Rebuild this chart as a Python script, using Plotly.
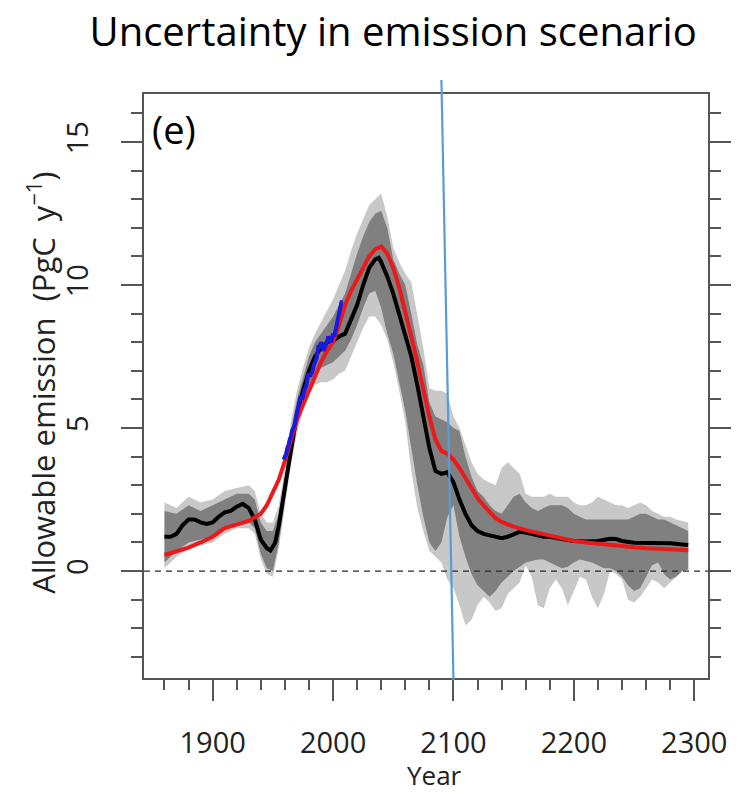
import plotly.graph_objects as go

# ---------------- data ----------------
black_years = [1860, 1865, 1870, 1875, 1880, 1885, 1890, 1895, 1900, 1905, 1910, 1915, 1920, 1925,
               1930, 1935, 1940, 1945, 1948, 1952, 1955, 1960, 1965, 1970, 1975, 1980, 1985, 1990,
               1995, 2000, 2005, 2010, 2015, 2020, 2025, 2030, 2035, 2038, 2040, 2045, 2050, 2055,
               2060, 2065, 2070, 2075, 2080, 2085, 2090, 2095, 2100, 2105, 2110, 2115, 2120, 2125,
               2130, 2135, 2140, 2145, 2150, 2155, 2160, 2165, 2170, 2175, 2180, 2185, 2190, 2195,
               2200, 2210, 2220, 2230, 2235, 2240, 2250, 2260, 2270, 2280, 2290, 2295]
black_vals = [1.2, 1.2, 1.3, 1.6, 1.8, 1.8, 1.7, 1.65, 1.7, 1.9, 2.05, 2.1, 2.25, 2.35,
              2.2, 1.8, 1.1, 0.8, 0.72, 1.0, 1.6, 2.9, 4.4, 5.5, 6.3, 7.0, 7.5, 7.8,
              8.0, 8.05, 8.2, 8.3, 8.8, 9.3, 10.0, 10.6, 10.9, 10.95, 10.8, 10.3, 9.7, 9.0,
              8.3, 7.5, 6.5, 5.3, 4.3, 3.5, 3.4, 3.45, 3.1, 2.5, 2.0, 1.6, 1.4, 1.3,
              1.25, 1.2, 1.15, 1.2, 1.3, 1.37, 1.35, 1.3, 1.25, 1.2, 1.2, 1.15, 1.1, 1.08,
              1.05, 1.03, 1.05, 1.13, 1.12, 1.05, 0.99, 0.98, 0.99, 0.97, 0.93, 0.91]

red_years = [1860, 1870, 1880, 1890, 1900, 1910, 1920, 1930, 1940, 1945, 1950, 1955, 1960, 1965,
             1970, 1975, 1980, 1985, 1990, 1995, 2000, 2005, 2010, 2015, 2020, 2025, 2030, 2035,
             2040, 2045, 2050, 2055, 2060, 2065, 2070, 2075, 2080, 2085, 2090, 2095, 2100, 2105,
             2110, 2115, 2120, 2125, 2130, 2135, 2140, 2150, 2160, 2170, 2180, 2190, 2200, 2210,
             2220, 2230, 2240, 2250, 2260, 2270, 2280, 2290, 2295]
red_vals = [0.56, 0.68, 0.82, 1.0, 1.2, 1.5, 1.62, 1.75, 2.0, 2.3, 2.75, 3.2, 3.85, 4.6,
            5.3, 5.8, 6.3, 6.8, 7.3, 7.7, 8.0, 8.6, 9.3, 9.8, 10.2, 10.6, 11.0, 11.25,
            11.35, 11.1, 10.6, 9.9, 9.1, 8.2, 7.3, 6.3, 5.4, 4.6, 4.2, 4.1, 3.9, 3.6,
            3.25, 2.9, 2.55, 2.3, 2.05, 1.85, 1.72, 1.55, 1.43, 1.33, 1.22, 1.12, 1.05, 1.0,
            0.95, 0.9, 0.86, 0.83, 0.8, 0.78, 0.76, 0.74, 0.73]

blue_years = list(range(1959, 2009))
blue_vals = [3.9, 4.0, 4.1, 4.3, 4.4, 4.6, 4.7, 4.9, 5.0, 5.1, 5.3, 5.5, 5.6, 5.8, 6.1, 6.0, 6.1,
             6.3, 6.4, 6.5, 6.8, 6.9, 6.8, 6.9, 7.0, 7.2, 7.3, 7.4, 7.6, 7.9, 7.8, 8.0, 7.9, 7.7,
             7.8, 7.9, 8.0, 8.2, 8.1, 8.0, 8.1, 8.3, 8.2, 8.4, 8.7, 8.9, 9.0, 9.2, 9.4, 9.4]

band_years = [1860, 1870, 1880, 1890, 1900, 1910, 1920, 1930, 1935, 1940, 1945, 1950, 1955, 1960,
              1965, 1970, 1975, 1980, 1985, 1990, 1995, 2000, 2005, 2010, 2015, 2020, 2025, 2030,
              2035, 2040, 2045, 2050, 2055, 2060, 2065, 2070, 2075, 2080, 2085, 2090, 2095, 2100,
              2105, 2110, 2115, 2120, 2125, 2130, 2135, 2140, 2145, 2150, 2155, 2160, 2165, 2170,
              2175, 2180, 2185, 2190, 2195, 2200, 2205, 2210, 2215, 2220, 2225, 2230, 2235, 2240,
              2245, 2250, 2255, 2260, 2265, 2270, 2275, 2280, 2285, 2290, 2295]
light_lo = [0.1, 0.5, 0.8, 0.9, 1.0, 1.3, 1.5, 1.5, 1.3, 0.4, -0.1, -0.2, 0.8, 2.2,
            3.7, 4.8, 5.6, 6.2, 6.5, 6.6, 6.6, 6.7, 6.9, 7.0, 7.5, 8.0, 8.5, 8.9,
            8.9, 8.6, 8.1, 7.3, 6.3, 5.2, 3.5, 2.2, 1.4, 0.7, 0.5, 0.3, -0.3, -0.6,
            -1.2, -1.9, -1.7, -1.2, -0.9, -1.1, -1.4, -1.3, -0.8, -0.6, -0.4, 0.2, -0.2, -1.2,
            -1.3, -0.6, -0.3, -0.6, -1.2, -0.7, -0.2, -0.3, -0.9, -1.3, -0.8, 0.0, -0.1, -0.3,
            -1.0, -1.1, -0.9, -0.6, -0.3, -0.4, -0.6, -0.4, -0.2, 0.0, 0.05]
dark_lo = [0.3, 0.7, 1.0, 1.1, 1.2, 1.5, 1.7, 1.7, 1.5, 0.6, 0.1, 0.0, 1.0, 2.4,
           3.9, 5.0, 5.8, 6.5, 6.9, 7.1, 7.2, 7.3, 7.5, 7.7, 8.1, 8.6, 9.2, 9.7,
           9.8, 9.2, 8.3, 7.6, 6.6, 5.6, 4.3, 3.0, 1.9, 1.0, 0.7, 1.0, 1.9, 2.3,
           1.2, 0.5, -0.1, -0.5, -0.7, -0.9, -0.7, -0.4, -0.2, 0.0, 0.15, 0.3, 0.35, 0.4,
           0.4, 0.3, 0.2, 0.1, 0.15, 0.3, 0.4, 0.35, 0.3, 0.2, 0.1, 0.1, 0.0, -0.2,
           -0.5, -0.7, -0.6, -0.2, 0.2, 0.3, -0.1, -0.3, -0.2, 0.0, 0.05]
dark_hi = [2.1, 2.0, 2.3, 2.1, 2.3, 2.5, 2.7, 2.7, 2.5, 1.7, 1.4, 1.4, 2.0, 3.3,
           4.9, 6.0, 6.8, 7.5, 8.0, 8.3, 8.6, 8.9, 9.3, 9.7, 10.4, 11.1, 11.7, 12.2,
           12.5, 12.6, 12.0, 10.9, 10.4, 10.0, 9.0, 7.9, 7.2, 5.9, 5.4, 5.3, 5.2, 5.0,
           4.9, 4.0, 3.3, 2.8, 2.6, 2.3, 2.1, 2.0, 2.3, 2.6, 2.7, 2.4, 2.2, 2.1,
           2.2, 2.3, 2.3, 2.3, 2.2, 2.0, 1.9, 1.8, 1.8, 1.8, 1.8, 1.8, 1.8, 1.8,
           1.8, 1.9, 2.0, 2.0, 1.9, 1.8, 1.8, 1.7, 1.6, 1.5, 1.4]
light_hi = [2.4, 2.2, 2.6, 2.4, 2.5, 2.8, 2.9, 3.0, 2.8, 2.0, 1.7, 1.7, 2.3, 3.6,
            5.2, 6.3, 7.1, 7.8, 8.3, 8.7, 9.1, 9.5, 10.0, 10.5, 11.2, 11.8, 12.3, 12.8,
            13.0, 13.2, 12.4, 11.3, 10.8, 10.4, 10.1, 9.0, 7.8, 6.4, 6.3, 6.3, 6.2, 5.4,
            5.0, 4.4, 3.8, 3.4, 3.2, 3.1, 3.0, 3.6, 3.8, 3.6, 3.4, 2.7, 2.6, 2.6,
            2.6, 2.7, 2.6, 2.6, 2.6, 2.4, 2.3, 2.3, 2.4, 2.6, 2.5, 2.4, 2.3, 2.3,
            2.2, 2.3, 2.4, 2.3, 2.1, 2.0, 1.9, 1.9, 1.8, 1.75, 1.7]

x_ticks = [1900, 2000, 2100, 2200, 2300]
y_ticks = [0, 5, 10, 15]
marker_line_years = [2100, 2090]   # hand-drawn marker line (bottom, top)

x_range = [1843, 2311.4]
y_range = [-3.74, 16.68]

# ---------------- figure ----------------
fig = go.Figure()

fig.add_trace(go.Scatter(x=band_years + band_years[::-1], y=light_hi + light_lo[::-1],
                         fill="toself", fillcolor="rgb(200,200,200)", line=dict(width=0),
                         mode="lines", hoverinfo="skip", showlegend=False))
fig.add_trace(go.Scatter(x=band_years + band_years[::-1], y=dark_hi + dark_lo[::-1],
                         fill="toself", fillcolor="rgb(128,128,128)", line=dict(width=0),
                         mode="lines", hoverinfo="skip", showlegend=False))
fig.add_trace(go.Scatter(x=black_years, y=black_vals, mode="lines",
                         line=dict(color="black", width=4), showlegend=False))
fig.add_trace(go.Scatter(x=red_years, y=red_vals, mode="lines",
                         line=dict(color="rgb(235,25,25)", width=4), showlegend=False))
fig.add_trace(go.Scatter(x=blue_years, y=blue_vals, mode="lines",
                         line=dict(color="rgb(25,25,225)", width=4), showlegend=False))

# zero dashed line
fig.add_shape(type="line", xref="paper", yref="y", x0=0, x1=1, y0=0, y1=0,
              line=dict(color="rgb(40,40,40)", width=1.3, dash="6px,5px"), layer="above")

# hand-drawn blue marker line (converted to paper coords from years)
def xp(year):
    return (year - x_range[0]) / (x_range[1] - x_range[0])

fig.add_shape(type="line", xref="paper", yref="paper",
              x0=xp(marker_line_years[0]), y0=-0.004, x1=xp(marker_line_years[1]), y1=1.024,
              line=dict(color="rgb(91,155,213)", width=2.2), layer="above")

tick_font = dict(family="Open Sans", size=29, color="#222")

# page body has an 8px default margin, so the figure is sized to fit the window
fig.update_layout(
    width=735, height=785,
    margin=dict(l=136, r=26, t=86, b=115),
    paper_bgcolor="white", plot_bgcolor="white",
    title=dict(text="Uncertainty in emission scenario", x=0.524, xanchor="center",
               y=0.969, yanchor="middle",
               font=dict(family="Open Sans", size=40, color="black")),
    xaxis=dict(range=x_range, tickvals=x_ticks, ticktext=[str(v) for v in x_ticks],
               ticks="outside", ticklen=21, tickwidth=1.5, tickcolor="#555",
               showline=True, linecolor="#555", linewidth=1.5, mirror=True,
               showgrid=False, zeroline=False, tickfont=tick_font, ticklabelstandoff=17,
               minor=dict(dtick=20, tick0=1900, ticks="outside", ticklen=10, tickwidth=1.5,
                          tickcolor="#555", showgrid=False)),
    yaxis=dict(range=y_range, tickvals=y_ticks, ticktext=[str(v) for v in y_ticks],
               ticks="outside", ticklen=21, tickwidth=1.5, tickcolor="#555",
               showline=True, linecolor="#555", linewidth=1.5, mirror="ticks",
               showgrid=False, zeroline=False, tickfont=tick_font, tickangle=-90,
               ticklabelstandoff=22,
               minor=dict(dtick=1, tick0=0, ticks="outside", ticklen=11, tickwidth=1.5,
                          tickcolor="#555", showgrid=False)),
    annotations=[
        dict(text="(e)", xref="paper", yref="paper", x=0.01, y=0.94, xanchor="left",
             yanchor="middle", showarrow=False,
             font=dict(family="Open Sans", size=38, color="black")),
        dict(text="Year", xref="paper", yref="paper", x=0.515, y=-0.166, xanchor="center",
             yanchor="middle", showarrow=False,
             font=dict(family="Open Sans", size=26, color="#222")),
        dict(text="Allowable emission\u00a0\u00a0(PgC\u00a0\u00a0y<sup>−1</sup>)",
             xref="paper", yref="paper", x=-0.183, y=0.505, xanchor="center",
             yanchor="middle", textangle=-90, showarrow=False,
             font=dict(family="Open Sans", size=31, color="#222")),
    ],
)

fig.write_html("out.html")
